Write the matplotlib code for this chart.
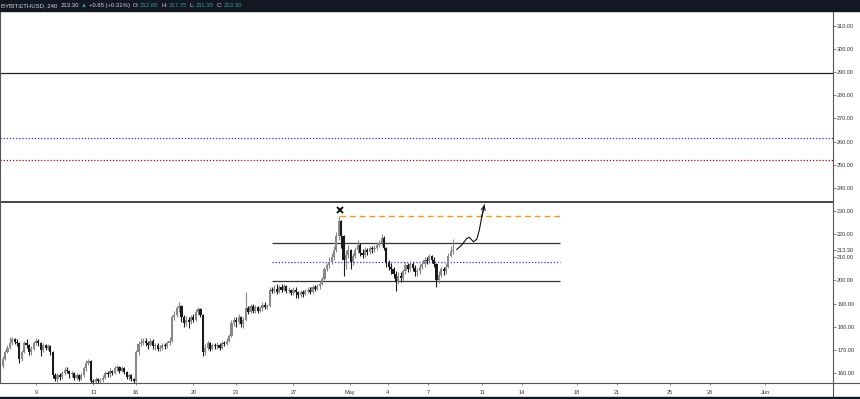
import numpy as np
import matplotlib
matplotlib.use('Agg')
import matplotlib.pyplot as plt
from matplotlib.patches import Rectangle
from matplotlib.lines import Line2D

plt.rcParams['font.family'] = ['Liberation Sans', 'DejaVu Sans']

# 4h candles, x in days of April (May = 31..)
first_day = 6.667
first_open = 163.0

closes = [
    166, 169, 171, 173, 174.5, 173.5,
    173, 166, 169, 173, 172, 169,
    170.5, 173, 174, 173, 170, 172,
    171, 171.5, 169, 159, 157.5, 159,
    158.5, 160, 161.5, 161, 159.5, 160,
    158, 159, 157.5, 159, 162, 164.5,
    165, 156.5, 156, 157.5, 156.5, 157,
    158, 160, 159.5, 161, 160, 162,
    162.5, 161, 162, 160.5, 158.5, 159,
    157.5, 156.5, 169, 172.5, 173, 174,
    173, 172, 174, 171.5, 172, 170.5,
    171, 172, 171.5, 173, 174, 184,
    185, 188, 189, 184, 181.5, 183,
    182, 184, 183, 186.5, 187.5, 185,
    169, 171, 173, 170.5, 172, 171.5,
    172, 171, 173, 172.5, 174, 176,
    181.5, 183, 182, 184, 181, 183,
    188, 186.5, 189, 187, 188.5, 187,
    188, 189.5, 188.5, 189, 196, 195.5,
    196.5, 195, 197, 196, 197.5, 195.5,
    196, 194.5, 196, 195, 193.5, 195,
    194, 195.5, 196, 195, 197, 196.5,
    197.5, 198.5, 200.5, 205, 206.5, 208,
    210, 213, 219, 225.5, 219, 209,
    211, 213, 208, 210.5, 213, 215.5,
    212, 211, 213, 212.5, 214, 213.5,
    214, 215.5, 216, 218.5, 214, 207.5,
    206, 205, 203, 199.5, 202, 201,
    204, 206.5, 205, 207, 205.5, 203.5,
    204, 206, 207, 209, 208.5, 210.5,
    209, 207, 200, 202.5, 205, 204,
    206, 210.5, 212.65, 213.3,
]
highs = [
    167.5, 170, 172, 175.5, 175.5, 175,
    174.5, 173.5, 170, 174, 174.5, 172.5,
    171.5, 174, 175, 174.5, 173.5, 173,
    172.5, 172.5, 172, 169.5, 160, 160,
    160, 161, 162.5, 162.5, 161.5, 161,
    160.5, 160, 159.5, 160, 163, 165.5,
    166, 165.5, 157.5, 158.5, 158, 158,
    159, 161, 161, 162, 161.5, 163,
    163.5, 163, 163, 162.5, 161, 160,
    159.5, 158, 170, 174, 175, 175,
    175, 174, 175, 174.5, 173, 173,
    172, 173, 173, 174, 175.5, 185,
    187, 189, 190.5, 189.5, 185, 184.5,
    184, 185, 185.5, 187.5, 188.5, 188,
    185.5, 172.5, 174, 173.5, 173, 173,
    173.5, 173, 174, 174, 175, 177,
    183, 184, 184, 185.5, 184.5, 184,
    195, 189, 190, 190, 189.5, 189,
    189, 190.5, 190.5, 190, 197, 197,
    198, 198.5, 198, 198.5, 198.5, 198,
    197, 196.5, 197, 197, 195.5, 196,
    196, 196.5, 197, 197, 198, 198,
    198.5, 199.5, 201.5, 206, 207.5, 210,
    212, 215, 221, 227.75, 226, 219.5,
    213, 215.5, 213.5, 212, 214.5, 217.5,
    216, 213.5, 214.5, 214, 215, 215,
    215.5, 216.5, 217.5, 220, 219, 214.5,
    209, 207.5, 206, 204, 203.5, 203.5,
    205, 208, 207.5, 208.5, 208, 206.5,
    205.5, 207, 208.5, 210, 210, 211.5,
    211, 210, 207.5, 204, 206, 206,
    207.5, 212, 215, 217.75,
]
lows = [
    162, 165.5, 168.5, 170.5, 172, 172.5,
    171.5, 164.3, 165, 168.5, 171, 168,
    168, 170, 172, 171.5, 167.5, 169,
    170, 170, 168, 158, 156.5, 156,
    157, 157.5, 159, 160, 158, 158.5,
    157, 157, 156.5, 157, 158.5, 161,
    163.5, 155.5, 155, 155.5, 155.5, 155.5,
    156, 157.5, 158.5, 158.5, 159, 159.5,
    161, 160, 160.5, 159.5, 157.5, 157,
    156.5, 155.5, 156, 168, 171.5, 172,
    171.5, 170.5, 171.5, 170.5, 170, 169.5,
    169.5, 170, 170.5, 171, 172, 173.5,
    183, 184, 186.5, 182, 180, 180.5,
    179.5, 181, 182, 182.5, 185, 184,
    167.5, 168, 170, 169.5, 170, 170.5,
    170.5, 170, 170.5, 171.5, 172, 173.5,
    175.5, 180.5, 180, 181, 180, 179.5,
    182.5, 185.5, 186, 186, 186, 186,
    186.5, 187, 187.5, 187.5, 188.5, 194.5,
    194.5, 194, 194.5, 195, 195.5, 194.5,
    194.5, 193.5, 193.5, 192.5, 192.5, 193,
    193, 193.5, 194.5, 194, 194.5, 195.5,
    196, 196.5, 198, 200, 204, 205.5,
    207, 209, 212.5, 217.5, 214, 202,
    205, 209.5, 205, 206.5, 209.5, 212,
    210.5, 209.5, 210, 211, 211.5, 212,
    212.5, 213, 214.5, 215, 213, 206,
    204.5, 203, 201, 195.5, 198.5, 199.5,
    200, 203, 203.5, 204, 204, 202,
    202, 203, 205, 206, 207, 207.5,
    207.5, 206, 197, 199, 201.5, 202.5,
    203, 205.5, 210, 211.35,
]

# drawn levels
full_black = [289.6, 234.1]
full_blue = 261.6
full_red = 252.2
box_start, box_end = 25.5, 45.64
box_lines = [216.2, 199.7]
box_mid = 208.0
peak_start = 30.26
peak_level = 227.75
peak_mark = (30.25, 230.4)
arrow_x = [38.42, 38.77, 39.12, 39.30, 39.47, 39.58, 39.82, 40.0, 40.17, 40.35]
arrow_y = [213.4, 215.3, 218.2, 218.6, 217.5, 216.7, 217.8, 221.8, 227.5, 232.6]

# axes labels
price_ticks = [160, 170, 180, 190, 200, 210, 213.3, 220, 230, 240, 250,
               260, 270, 280, 290, 300, 310]
date_ticks = [9, 13, 16, 20, 23, 27, 30.96, 33.6, 36.4, 40.2, 43.0, 46.8,
              49.6, 53.3, 56.1, 60.0]
date_labels = ['9', '13', '16', '20', '23', '27', 'May', '4', '7', '11', '14',
               '18', '21', '25', '28', 'Jun']

W, H = 860, 399
fig = plt.figure(figsize=(W / 100, H / 100), dpi=100)
fig.patch.set_facecolor('white')
ax = fig.add_axes([0, 16 / H, 833 / W, 372 / H])

closes = np.array(closes, dtype=float)
highs = np.array(highs, dtype=float)
lows = np.array(lows, dtype=float)
opens = np.r_[first_open, closes[:-1]]
x = first_day + np.arange(len(closes)) / 6.0
up = closes >= opens
colors = np.where(up, '#888888', '#1a1a1a')

ax.vlines(x, lows, highs, colors=colors, lw=0.8, zorder=2)
ax.bar(x, np.maximum(np.abs(closes - opens), 0.4), bottom=np.minimum(opens, closes),
       width=0.15, color=colors, lw=0, zorder=3)

for lvl in full_black:
    ax.axhline(lvl, color='#222222' if lvl > 250 else '#444444',
               lw=0.9 if lvl > 250 else 1.4, zorder=1)
ax.axhline(full_blue, color='#3030ff', lw=0.9, ls=(0, (1, 1.5)), zorder=1)
ax.axhline(full_red, color='#c00000', lw=0.9, ls=(0, (1, 1.5)), zorder=1)
ax.hlines(box_lines, box_start, box_end, color='#333333', lw=0.9, zorder=1)
ax.hlines(box_mid, box_start, box_end, color='#3030ff', lw=0.9, ls=(0, (1, 1.5)), zorder=1)
ax.hlines(peak_level, peak_start, box_end, color='#ff9800', lw=1.0, ls=(0, (4, 3)), zorder=1)
ax.plot(*peak_mark, marker='x', ms=4, mew=1.4, color='#111111', zorder=4)

ax.plot(arrow_x, arrow_y, color='#111111', lw=0.8, zorder=4)
ax.annotate('', xy=(arrow_x[-1], arrow_y[-1]), xytext=(arrow_x[-2], arrow_y[-2]),
            arrowprops=dict(arrowstyle='->', lw=0.8, color='#111111', mutation_scale=7,
                            shrinkA=0, shrinkB=0), zorder=4)

ax.set_xlim(6.48, 64.73)
ax.set_ylim(155.7, 316.4)
ax.yaxis.tick_right()
ax.set_yticks(price_ticks)
ax.set_yticklabels(['%.2f' % v for v in price_ticks])
ax.set_xticks(date_ticks)
ax.set_xticklabels(date_labels)
ax.tick_params(axis='y', labelsize=4.0, length=1.8, width=0.5, pad=1.2,
               colors='#555555', labelcolor='#333333')
ax.tick_params(axis='x', labelsize=4.0, length=1.2, width=0.5, pad=3.5,
               colors='#555555', labelcolor='#333333')
for side in ['left', 'bottom', 'right']:
    ax.spines[side].set_color('#555555')
    ax.spines[side].set_linewidth(0.8)
ax.spines['top'].set_visible(False)

# frame pieces around the axes
fig.add_artist(Line2D([833 / W, 833 / W], [2 / H, 16 / H], color='#555555', lw=0.8))
fig.add_artist(Line2D([833 / W, 1], [16 / H, 16 / H], color='#555555', lw=0.8))
fig.patches.append(Rectangle((0, 388 / H), 1, 11 / H, transform=fig.transFigure,
                             color='#131722', zorder=5))
fig.patches.append(Rectangle((0, 0), 1, 2 / H, transform=fig.transFigure,
                             color='#131722', zorder=5))

# header, pieces laid out one after another
teal = '#26a69a'
header = [
    ('BYBIT:ETHUSD, 240', '#d1d4dc', 3),
    ('213.30', '#d1d4dc', 2),
    ('\u25b2', teal, 2),
    ('+0.65 (+0.31%)', '#d1d4dc', 3),
    ('O:', '#d1d4dc', 1),
    ('212.65', teal, 3),
    ('H:', '#d1d4dc', 1),
    ('217.75', teal, 3),
    ('L:', '#d1d4dc', 1),
    ('211.35', teal, 3),
    ('C:', '#d1d4dc', 1),
    ('213.30', teal, 0),
]
renderer = fig.canvas.get_renderer()
px = 1.0
for txt, col, gap in header:
    t = fig.text(px / W, 393.5 / H, txt, color=col, fontsize=4.3, va='center',
                 ha='left', zorder=6)
    px = t.get_window_extent(renderer).x1 + gap

fig.savefig('out.png', dpi=100)
